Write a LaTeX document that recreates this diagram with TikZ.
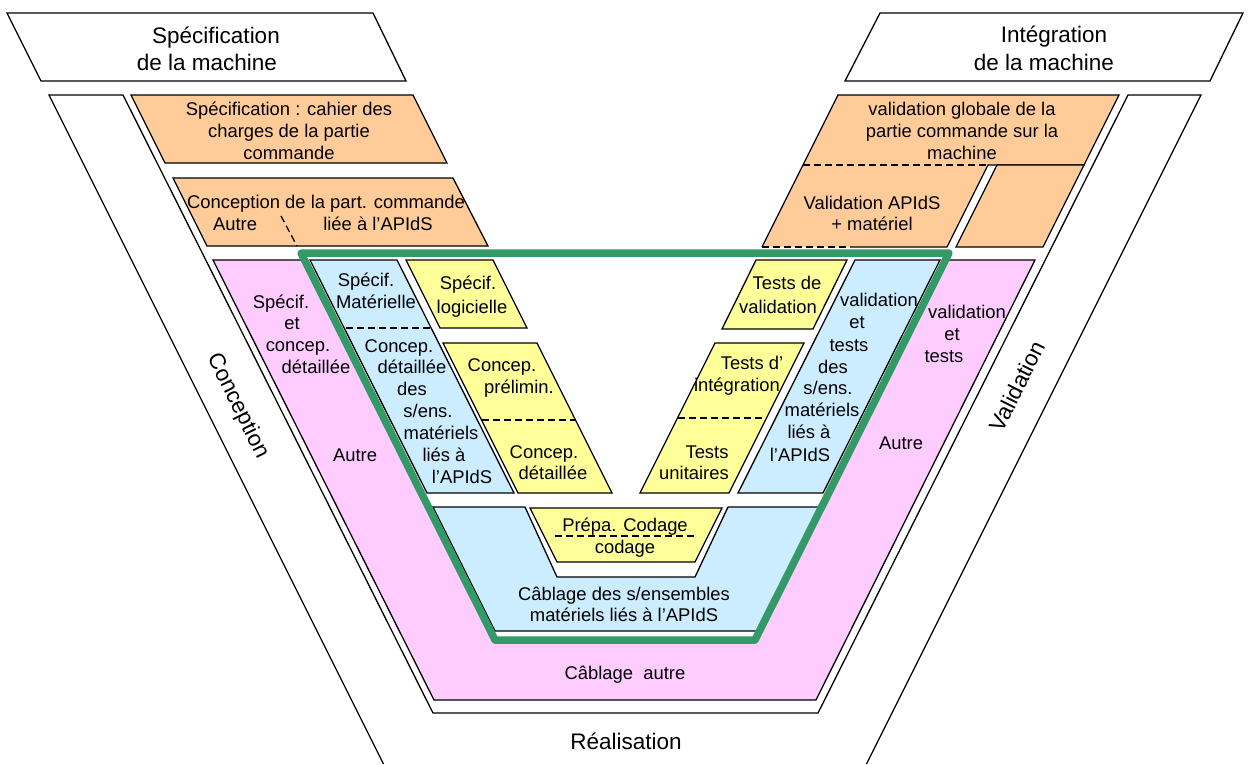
\documentclass[tikz,border=0pt]{standalone}
\usepackage{fontspec}
\setmainfont{Liberation Sans}
\definecolor{orangeC}{HTML}{FFCC99}
\definecolor{pinkC}{HTML}{FFCCFF}
\definecolor{blueC}{HTML}{CCECFF}
\definecolor{yellowC}{HTML}{FFFF99}
\definecolor{greenC}{HTML}{339966}
\newcommand\bodyfnt{\fontsize{18.4}{22}\selectfont}
\newcommand\titlefnt{\fontsize{22.5}{28}\selectfont}
\tikzset{
  ln/.style={draw=black, line width=1.3pt, line join=miter},
  dsh/.style={draw=black, line width=1.3pt, dash pattern=on 7pt off 4pt},
  greenline/.style={draw=greenC, line width=7.5pt, line join=round},
  txt/.style={anchor=base, yshift=-6.5pt, inner sep=0pt, font=\bodyfnt, text height=12pt, text depth=2pt},
  ttl/.style={anchor=base, inner sep=0pt, font=\titlefnt},
  rtxt/.style={font=\titlefnt, inner sep=0pt, text height=14pt, text depth=2pt},
}
\begin{document}
\begin{tikzpicture}[x=1pt,y=-1pt]
\useasboundingbox (0,0) rectangle (1248,764);
% title boxes
\draw[ln,fill=white] (7,13)--(373,13)--(406,81)--(41,81)--cycle;
\draw[ln,fill=white] (880,13)--(1243,13)--(1210,81)--(845,81)--cycle;
% outer V band
\draw[ln] (383.5,764)--(49,95)--(123,95)--(433,713)--(818,713)--(1128,95)--(1201,95)--(866.5,764);
% orange boxes (left)
\draw[ln,fill=orangeC] (131,95)--(413,95)--(447,163)--(165,163)--cycle;
\draw[ln,fill=orangeC] (173,178)--(453,178)--(488,246)--(207,246)--cycle;
\draw[dsh] (281,216)--(297,246);
% orange boxes (right)
\fill[orangeC] (838,95)--(1119,95)--(1084,165)--(988,165)--(947,247)--(762,247)--cycle;
\draw[ln] (762,247)--(838,95)--(1119,95)--(1084,165)--(988,165)--(947,247)--(850,247);
\draw[dsh] (803,165)--(988,165);
\draw[dsh] (762,247)--(850,247);
\draw[ln,fill=orangeC] (997,165)--(1084,165)--(1043,247)--(956,247)--cycle;
% pink band
\draw[ln,fill=pinkC] (213,260)--(1035,260)--(816,700)--(434,700)--cycle;
\fill[white] (301,253)--(949,253)--(755,640)--(495,640)--cycle;
% blue areas
\draw[ln,fill=blueC] (310,260)--(397,260)--(514,493)--(427,493)--cycle;
\draw[dsh] (346,328)--(431,328);
\draw[ln,fill=blueC] (855,260)--(940,260)--(823,493)--(738,493)--cycle;
\draw[ln,fill=blueC] (433,507)--(525,507)--(557,577)--(695,577)--(728,507)--(820,507)--(757,631)--(495,631)--cycle;
% yellow boxes
\draw[ln,fill=yellowC] (406,260)--(493,260)--(527,328)--(440,328)--cycle;
\draw[ln,fill=yellowC] (443,343)--(537,343)--(612,493)--(518,493)--cycle;
\draw[dsh] (482,420)--(575,420);
\draw[ln,fill=yellowC] (756,260)--(847,260)--(813,329)--(722,329)--cycle;
\draw[ln,fill=yellowC] (715,343)--(804,343)--(729,493)--(640,493)--cycle;
\draw[dsh] (678,418)--(766,418);
\draw[ln,fill=yellowC] (530,508)--(722,508)--(695,562)--(557,562)--cycle;
\draw[dsh] (555,536)--(697,536);
% green frame
\draw[greenline] (301,253)--(949,253)--(755,640)--(495,640)--cycle;
% titles
\node[ttl] (t1) at (216,43) {Spécification};
\node[ttl] (t2) at (207,70) {de la machine};
\node[ttl] (t3) at (1054,42) {Intégration};
\node[ttl] (t4) at (1044,70) {de la machine};
\node[ttl] (t5) at (626,749) {Réalisation};
\node[rtxt, rotate=-63.4] (t6) at (238,406) {Conception};
\node[rtxt, rotate=63.4] (t7) at (1019,387) {Validation};
% body texts
\foreach \x/\y/\t [count=\i] in {
  289/109/{Spécification : cahier des}, 289/131/{charges de la partie}, 289/153/{commande},
  326/202/{Conception de la part. commande}, 235/224/{Autre}, 378/224/{liée à l’APIdS},
  962/109/{validation globale de la}, 962/131/{partie commande sur la}, 962/153/{machine},
  872/203/{Validation APIdS}, 872/224/{+ matériel}}
  \node[txt] (o\i) at (\x,\y) {\t};
\foreach \x/\y/\t [count=\i] in {
  281/302/{Spécif.}, 292/323/{et}, 298/345/{concep.}, 316/367/{détaillée}, 355/455/{Autre},
  967/312/{validation}, 952/334/{et}, 944/356/{tests}, 901/443/{Autre},
  625/673/{Câblage~ autre}}
  \node[txt] (p\i) at (\x,\y) {\t};
\foreach \x/\y/\t [count=\i] in {
  366/280/{Spécif.}, 376/302/{Matérielle}, 399/346/{Concep.}, 412/367/{détaillée},
  412/389/{des}, 428/411/{s/ens.}, 441/433/{matériels}, 444/455/{liés à}, 462/477/{l’APIdS},
  879/300/{validation}, 857/322/{et}, 849/345/{tests}, 833/367/{des}, 828/388/{s/ens.},
  822/410/{matériels}, 809/432/{liés à}, 800/455/{l’APIdS},
  624/594/{Câblage des s/ensembles}, 624/615/{matériels liés à l’APIdS}}
  \node[txt] (b\i) at (\x,\y) {\t};
\foreach \x/\y/\t [count=\i] in {
  468/283/{Spécif.}, 472/307/{logicielle}, 502/365/{Concep.}, 519/387/{prélimin.},
  544/452/{Concep.}, 553/473/{détaillée},
  787/283/{Tests de}, 778/307/{validation}, 752/363/{Tests d’}, 737/385/{intégration},
  707/452/{Tests}, 694/473/{unitaires},
  625/525/{Prépa. Codage}, 625/547/{codage}}
  \node[txt] (y\i) at (\x,\y) {\t};
\end{tikzpicture}
\end{document}
